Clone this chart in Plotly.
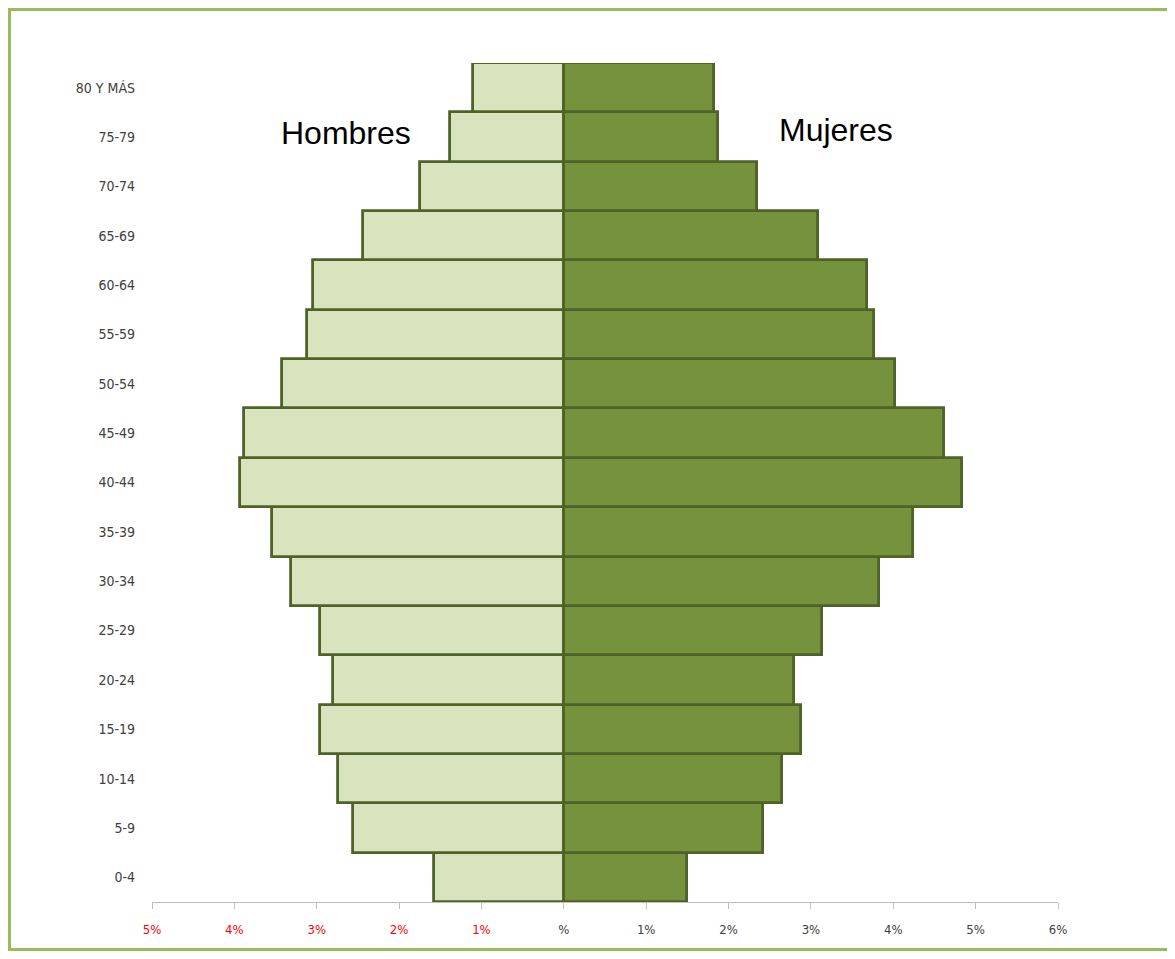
import plotly.graph_objects as go

ages = ["0-4", "5-9", "10-14", "15-19", "20-24", "25-29", "30-34", "35-39", "40-44",
        "45-49", "50-54", "55-59", "60-64", "65-69", "70-74", "75-79", "80 Y MÁS"]
hombres = [1.58, 2.56, 2.74, 2.96, 2.80, 2.96, 3.31, 3.54, 3.93,
           3.88, 3.42, 3.12, 3.05, 2.44, 1.75, 1.38, 1.10]
mujeres = [1.50, 2.42, 2.65, 2.88, 2.80, 3.13, 3.83, 4.24, 4.84,
           4.62, 4.02, 3.76, 3.68, 3.09, 2.35, 1.87, 1.82]
tick_vals = [-5, -4, -3, -2, -1, 0, 1, 2, 3, 4, 5, 6]
tick_text = ["5%", "4%", "3%", "2%", "1%", "%", "1%", "2%", "3%", "4%", "5%", "6%"]

# page body has an 8px margin, so the figure is sized/offset to compensate
OFF = 8
W, H = 1175 - OFF, 959 - 2 * OFF
ml, mt = 152 - OFF, 63 - OFF
mr, mb = W - (1058 - OFF), H - (902 - OFF)
pw, ph = W - ml - mr, H - mt - mb

outline = "#4f6228"
fig = go.Figure()
fig.add_trace(go.Bar(y=ages, x=[-v for v in hombres], orientation="h", name="Hombres",
                     marker=dict(color="#d7e4bd", line=dict(color=outline, width=2.8)),
                     customdata=hombres, hovertemplate="%{y}: %{customdata}%<extra>Hombres</extra>"))
fig.add_trace(go.Bar(y=ages, x=mujeres, orientation="h", name="Mujeres",
                     marker=dict(color="#76923c", line=dict(color=outline, width=2.8)),
                     hovertemplate="%{y}: %{x}%<extra>Mujeres</extra>"))

colored = [f'<span style="color:#ff0000">{t}</span>' if v < 0 else t
           for v, t in zip(tick_vals, tick_text)]

fig.update_layout(
    width=W, height=H, margin=dict(l=ml, r=mr, t=mt, b=mb),
    paper_bgcolor="white", plot_bgcolor="white",
    barmode="relative", bargap=0.0, showlegend=False,
    font=dict(family="DejaVu Sans Condensed, Liberation Sans Narrow, Arial", size=13, color="#404040"),
    xaxis=dict(range=[-5, 6], tickvals=tick_vals, ticktext=colored, showgrid=False,
               zeroline=False, showline=True, linecolor="#bfbfbf", linewidth=1,
               ticks="outside", ticklen=6, tickcolor="#bfbfbf", ticklabelstandoff=9,
               tickfont=dict(size=13), fixedrange=True),
    yaxis=dict(categoryorder="array", categoryarray=ages, range=[-0.5, 16.5],
               showgrid=False, zeroline=False, showline=False, ticks="",
               ticklabelstandoff=16, tickfont=dict(size=14), fixedrange=True),
    annotations=[
        dict(x=-2.65, y=15.08, xref="x", yref="y", text="Hombres", showarrow=False,
             font=dict(family="Liberation Sans, Arial", size=32, color="#000000")),
        dict(x=3.3, y=15.15, xref="x", yref="y", text="Mujeres", showarrow=False,
             font=dict(family="Liberation Sans, Arial", size=32, color="#000000")),
    ],
    shapes=[dict(type="rect", xref="paper", yref="paper",
                 x0=(1.5 - ml) / pw, x1=(1172 - OFF - ml) / pw,
                 y0=1 - (H - 1.5 - mt) / ph, y1=1 - (1.5 - mt) / ph,
                 line=dict(color="#9bbb59", width=3), fillcolor="rgba(0,0,0,0)", layer="below")],
)
fig.write_html("out.html")
